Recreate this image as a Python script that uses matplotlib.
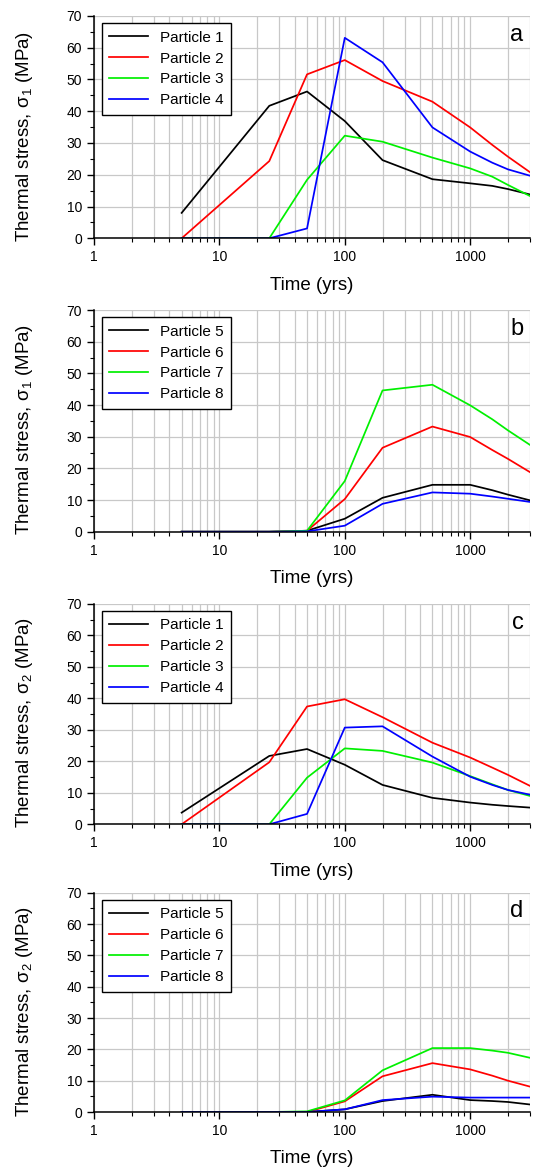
import matplotlib
matplotlib.use('Agg')
import matplotlib.pyplot as plt
import numpy as np
from matplotlib.ticker import LogLocator, MultipleLocator, FuncFormatter, NullFormatter

plt.rcParams['font.family'] = ['Liberation Sans', 'DejaVu Sans']
plt.rcParams['mathtext.fontset'] = 'custom'
plt.rcParams['mathtext.rm'] = 'Liberation Sans'
plt.rcParams['mathtext.it'] = 'Liberation Sans:italic'

# time points (yrs)
times = [5, 25, 50, 100, 200, 500, 1000, 1500, 2000, 3000]

# panel a: sigma_1, particles 1-4
a_p1 = [8.0, 41.7, 46.2, 36.9, 24.6, 18.6, 17.3, 16.5, 15.5, 13.8]
a_p2 = [0.0, 24.3, 51.6, 56.1, 49.5, 43.0, 34.9, 29.4, 25.7, 20.8]
a_p3 = [0.0, 0.0, 18.4, 32.3, 30.4, 25.4, 22.0, 19.4, 16.8, 13.3]
a_p4 = [0.0, 0.0, 3.1, 63.1, 55.4, 34.9, 27.3, 23.8, 21.7, 19.7]

# panel b: sigma_1, particles 5-8
b_p5 = [0.0, 0.0, 0.3, 4.1, 10.7, 14.8, 14.8, 13.1, 11.7, 9.9]
b_p6 = [0.0, 0.0, 0.3, 10.3, 26.5, 33.2, 29.9, 25.8, 23.0, 18.8]
b_p7 = [0.0, 0.0, 0.3, 16.0, 44.6, 46.4, 39.9, 35.5, 32.0, 27.4]
b_p8 = [0.0, 0.0, 0.1, 1.9, 8.8, 12.4, 12.0, 11.1, 10.4, 9.4]

# panel c: sigma_2, particles 1-4
c_p1 = [3.7, 21.7, 23.9, 18.9, 12.5, 8.4, 6.9, 6.2, 5.8, 5.3]
c_p2 = [0.0, 19.7, 37.4, 39.7, 34.0, 25.9, 21.2, 18.0, 15.7, 12.2]
c_p3 = [0.0, 0.0, 14.8, 24.1, 23.3, 19.6, 15.3, 12.7, 10.9, 9.0]
c_p4 = [0.0, 0.0, 3.3, 30.7, 31.1, 21.5, 15.1, 12.5, 10.9, 9.4]

# panel d: sigma_2, particles 5-8
d_p5 = [0.0, 0.0, 0.0, 0.85, 3.5, 5.5, 3.8, 3.5, 3.2, 2.4]
d_p6 = [0.0, 0.0, 0.0, 3.4, 11.4, 15.6, 13.6, 11.6, 10.0, 8.1]
d_p7 = [0.0, 0.0, 0.2, 3.7, 13.3, 20.4, 20.4, 19.6, 18.9, 17.3]
d_p8 = [0.0, 0.0, 0.0, 0.85, 3.8, 4.9, 4.6, 4.6, 4.6, 4.6]

colors = ['black', '#ff0000', '#00f000', '#0000ff']

panels = [
    ('a', r'Thermal stress, σ$_1$ (MPa)', [1, 2, 3, 4], [a_p1, a_p2, a_p3, a_p4]),
    ('b', r'Thermal stress, σ$_1$ (MPa)', [5, 6, 7, 8], [b_p5, b_p6, b_p7, b_p8]),
    ('c', r'Thermal stress, σ$_2$ (MPa)', [1, 2, 3, 4], [c_p1, c_p2, c_p3, c_p4]),
    ('d', r'Thermal stress, σ$_2$ (MPa)', [5, 6, 7, 8], [d_p5, d_p6, d_p7, d_p8]),
]

W, H = 533, 1173
fig = plt.figure(figsize=(W / 100, H / 100), dpi=100)

# axes boxes in pixels: (top, bottom)
boxes = [(15.9, 238.3), (310.0, 531.7), (603.8, 824.3), (892.7, 1112.0)]
left_px, right_px = 94, 530

for (letter, ylab, nums, series), (top, bot) in zip(panels, boxes):
    ax = fig.add_axes([left_px / W, 1 - bot / H, (right_px - left_px) / W, (bot - top) / H])
    for n, vals, c in zip(nums, series, colors):
        ax.plot(times, vals, color=c, lw=1.25, label=f'Particle {n}')

    ax.set_xscale('log')
    ax.set_xlim(1, 3000)
    ax.set_ylim(0, 70)
    ax.xaxis.set_major_locator(LogLocator(base=10, numticks=10))
    ax.xaxis.set_minor_locator(LogLocator(base=10, subs=np.arange(2, 10), numticks=10))
    ax.xaxis.set_major_formatter(FuncFormatter(lambda v, p: f'{v:g}'))
    ax.xaxis.set_minor_formatter(NullFormatter())
    ax.yaxis.set_major_locator(MultipleLocator(10))
    ax.yaxis.set_minor_locator(MultipleLocator(5))

    ax.grid(True, which='major', axis='y', color='#c8c8c8', lw=0.9)
    ax.grid(True, which='both', axis='x', color='#c8c8c8', lw=0.9)
    ax.set_axisbelow(True)

    for s in ['top', 'right']:
        ax.spines[s].set_visible(False)
    for s in ['left', 'bottom']:
        ax.spines[s].set_linewidth(1.1)

    ax.tick_params(which='major', direction='out', length=5, width=1.0, labelsize=10)
    ax.tick_params(which='minor', direction='out', length=3, width=0.8)

    ax.set_xlabel('Time (yrs)', fontsize=13.5, labelpad=9)
    ax.set_ylabel(ylab, fontsize=13.5)
    ax.yaxis.set_label_coords(-0.135, 0.46)

    leg = ax.legend(loc='upper left', bbox_to_anchor=(0.018, 0.968), borderaxespad=0,
                    fontsize=11, fancybox=False, framealpha=1, edgecolor='black',
                    handlelength=2.5, labelspacing=0.45, borderpad=0.5)
    leg.get_frame().set_linewidth(1.0)

    ax.text(0.985, 0.915, letter, transform=ax.transAxes, ha='right', va='center', fontsize=17)

fig.savefig('out.png', dpi=100)
